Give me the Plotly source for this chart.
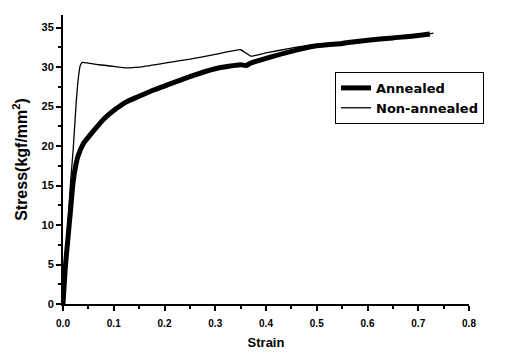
import plotly.graph_objects as go

annealed_strain = [0.0, 0.005, 0.01, 0.015, 0.02, 0.025, 0.03, 0.04, 0.056, 0.08, 0.1, 0.125, 0.15, 0.175, 0.2, 0.25, 0.3, 0.35, 0.36, 0.37, 0.4, 0.45, 0.5, 0.55, 0.6, 0.65, 0.7, 0.723]
annealed_stress = [0.0, 5.0, 8.5, 12.0, 15.5, 17.5, 18.8, 20.3, 21.6, 23.4, 24.5, 25.6, 26.3, 27.0, 27.6, 28.8, 29.8, 30.3, 30.2, 30.5, 31.1, 32.0, 32.7, 33.0, 33.4, 33.7, 34.0, 34.2]

nonannealed_strain = [0.0, 0.005, 0.01, 0.015, 0.02, 0.026, 0.03, 0.034, 0.038, 0.05, 0.07, 0.1, 0.125, 0.15, 0.2, 0.25, 0.3, 0.35, 0.36, 0.37, 0.4, 0.45, 0.49, 0.55, 0.6, 0.65, 0.7, 0.73]
nonannealed_stress = [0.0, 6.0, 10.5, 15.5, 19.5, 25.5, 28.5, 30.2, 30.6, 30.5, 30.3, 30.1, 29.9, 30.0, 30.5, 31.0, 31.6, 32.2, 31.8, 31.4, 31.8, 32.4, 32.8, 33.1, 33.4, 33.7, 34.0, 34.3]

x_ticks = [0.0, 0.1, 0.2, 0.3, 0.4, 0.5, 0.6, 0.7, 0.8]
x_labels = ["0.0", "0.1", "0.2", "0.3", "0.4", "0.5", "0.6", "0.7", "0.8"]
y_ticks = [0, 5, 10, 15, 20, 25, 30, 35]

fig = go.Figure()
fig.add_trace(go.Scatter(x=annealed_strain, y=annealed_stress, mode="lines",
                         name="Annealed", line=dict(color="black", width=5, shape="spline", smoothing=0.6)))
fig.add_trace(go.Scatter(x=nonannealed_strain, y=nonannealed_stress, mode="lines",
                         name="Non-annealed", line=dict(color="black", width=1.3, shape="spline", smoothing=0.4)))

font_family = "Liberation Sans, Arial, sans-serif"
fig.update_layout(
    width=499, height=346,
    margin=dict(l=55, r=38, t=7, b=50),
    paper_bgcolor="white", plot_bgcolor="white",
    font=dict(family=font_family, color="black"),
    legend=dict(x=0.67, y=0.803, xanchor="left", yanchor="top",
                bordercolor="black", borderwidth=1, bgcolor="white",
                font=dict(size=13, weight="bold", family="DejaVu Sans, sans-serif", color="black"),
                tracegroupgap=0, itemwidth=30),
    showlegend=True,
)
fig.update_xaxes(
    range=[0, 0.8], tickvals=x_ticks, ticktext=x_labels, automargin=False,
    showline=True, linecolor="black", linewidth=2, mirror=False,
    ticks="outside", ticklen=5, tickwidth=2, tickcolor="black", ticklabelstandoff=4,
    minor=dict(dtick=0.05, ticks="outside", ticklen=3, tickwidth=1.5, tickcolor="black"),
    showgrid=False, zeroline=False,
    tickfont=dict(size=10, weight="bold", family=font_family),
    title=dict(text="Strain", font=dict(size=13, weight="bold", family=font_family), standoff=10),
)
fig.update_yaxes(
    range=[0, 36.6], tickvals=y_ticks, automargin=False,
    showline=True, linecolor="black", linewidth=2, mirror=False,
    ticks="outside", ticklen=5, tickwidth=2, tickcolor="black",
    minor=dict(dtick=2.5, ticks="outside", ticklen=3, tickwidth=1.5, tickcolor="black"),
    showgrid=False, zeroline=False,
    tickfont=dict(size=11, weight="bold", family=font_family),
    title=dict(text="Stress(kgf/mm<sup>2</sup>)", font=dict(size=16, weight="bold", family=font_family), standoff=10),
)

fig.write_html("out.html")
